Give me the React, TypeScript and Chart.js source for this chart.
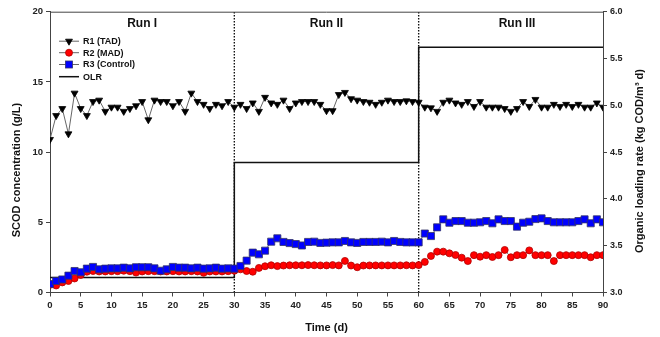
import React, { useEffect, useRef } from 'react';
import { Chart, registerables } from 'chart.js';

Chart.register(...registerables);

// ---- DATA ----
const days: number[] = Array.from({ length: 91 }, (_, i) => i);

const r1TAD: number[] = [
  10.9, 12.6, 13.1, 11.3, 14.2, 13.1, 12.6, 13.6, 13.7, 12.9,
  13.2, 13.2, 12.9, 13.1, 13.3, 13.6, 12.3, 13.7, 13.6, 13.6,
  13.3, 13.6, 12.9, 14.2, 13.6, 13.4, 13.1, 13.4, 13.3, 13.6,
  13.2, 13.4, 13.1, 13.5, 12.9, 13.9, 13.5, 13.4, 13.7, 13.1,
  13.5, 13.6, 13.6, 13.6, 13.4, 12.95, 12.95, 14.1, 14.25, 13.8,
  13.7, 13.6, 13.55, 13.4, 13.55, 13.7, 13.6, 13.6, 13.65, 13.6,
  13.55, 13.2, 13.15, 12.9, 13.55, 13.7, 13.5, 13.4, 13.6, 13.25,
  13.6, 13.2, 13.2, 13.2, 13.1, 12.9, 13.1, 13.6, 13.25, 13.75,
  13.2, 13.2, 13.4, 13.25, 13.4, 13.25, 13.4, 13.2, 13.2, 13.5,
  13.2,
];

const r2MAD: number[] = [
  0.55, 0.5, 0.72, 0.82, 1.0, 1.25, 1.48, 1.53, 1.5, 1.5,
  1.52, 1.52, 1.55, 1.52, 1.42, 1.5, 1.52, 1.52, 1.5, 1.5,
  1.52, 1.5, 1.5, 1.52, 1.5, 1.4, 1.5, 1.5, 1.5, 1.52,
  1.55, 1.65, 1.53, 1.48, 1.75, 1.87, 1.94, 1.88, 1.92, 1.94,
  1.94, 1.94, 1.95, 1.94, 1.93, 1.93, 1.95, 1.93, 2.25, 1.92,
  1.8, 1.92, 1.93, 1.93, 1.93, 1.93, 1.93, 1.93, 1.94, 1.93,
  1.95, 2.18, 2.6, 2.91, 2.91, 2.79, 2.67, 2.48, 2.24, 2.66,
  2.55, 2.66, 2.53, 2.66, 3.03, 2.51, 2.66, 2.66, 3.0, 2.66,
  2.66, 2.66, 2.24, 2.66, 2.66, 2.66, 2.66, 2.66, 2.51, 2.66,
  2.66,
];

const r3Control: number[] = [
  0.6, 0.82, 0.93, 1.2, 1.53, 1.44, 1.7, 1.82, 1.65, 1.7,
  1.72, 1.72, 1.77, 1.72, 1.8, 1.8, 1.8, 1.72, 1.55, 1.65,
  1.82, 1.77, 1.77, 1.72, 1.77, 1.7, 1.72, 1.77, 1.7, 1.72,
  1.7, 1.89, 2.27, 2.84, 2.72, 2.98, 3.62, 3.86, 3.6, 3.52,
  3.45, 3.35, 3.6, 3.62, 3.53, 3.55, 3.57, 3.57, 3.67, 3.57,
  3.53, 3.6, 3.6, 3.6, 3.62, 3.57, 3.67, 3.6, 3.57, 3.57,
  3.57, 4.2, 4.02, 4.64, 5.21, 4.97, 5.09, 5.09, 4.97, 4.97,
  5.0, 5.09, 4.93, 5.21, 5.09, 5.09, 4.69, 4.97, 5.04, 5.23,
  5.28, 5.09, 5.0, 5.0, 5.0, 5.0, 5.09, 5.21, 4.93, 5.21,
  5.0,
];

const olrDays: number[] = [0, 30, 60, 90];
const olrValues: number[] = [3.16, 4.39, 5.62, 5.62];

const runBoundaries: number[] = [30, 60];
const runLabels: string[] = ['Run I', 'Run II', 'Run III'];
const runLabelDays: number[] = [15, 45, 76];

const seriesLabels: string[] = ['R1 (TAD)', 'R2 (MAD)', 'R3 (Control)', 'OLR'];

const leftTitle = 'SCOD concentration (g/L)';
const rightTitle = 'Organic loading rate (kg COD/m³ d)';
const bottomTitle = 'Time (d)';

const FONT = "'Liberation Sans', Arial, Helvetica, sans-serif";

const toXY = (ys: number[]) => ys.map((y, i) => ({ x: days[i], y }));

function drawMarker(ctx: CanvasRenderingContext2D, kind: string, x: number, y: number) {
  ctx.save();
  ctx.lineWidth = 0.8;
  if (kind === 'tri') {
    const r = 4;
    ctx.fillStyle = '#000';
    ctx.strokeStyle = '#000';
    ctx.beginPath();
    ctx.moveTo(x, y + r);
    ctx.lineTo(x - r * 0.866, y - r * 0.5);
    ctx.lineTo(x + r * 0.866, y - r * 0.5);
    ctx.closePath();
    ctx.fill();
    ctx.stroke();
  } else if (kind === 'circle') {
    ctx.fillStyle = '#ff0000';
    ctx.strokeStyle = '#b00000';
    ctx.beginPath();
    ctx.arc(x, y, 3.5, 0, Math.PI * 2);
    ctx.fill();
    ctx.stroke();
  } else if (kind === 'square') {
    ctx.fillStyle = '#0000ff';
    ctx.strokeStyle = '#333366';
    ctx.fillRect(x - 3.5, y - 3.5, 7, 7);
    ctx.strokeRect(x - 3.5, y - 3.5, 7, 7);
  }
  ctx.restore();
}

const decorPlugin = {
  id: 'decor',
  afterDraw(chart: any) {
    const { ctx, chartArea, scales } = chart;
    const { left, right, top } = chartArea;
    ctx.save();
    // top border
    ctx.strokeStyle = '#444';
    ctx.lineWidth = 1;
    ctx.beginPath();
    ctx.moveTo(left, top + 0.5);
    ctx.lineTo(right, top + 0.5);
    ctx.stroke();

    // run labels
    ctx.fillStyle = '#111';
    ctx.font = `bold 12px ${FONT}`;
    ctx.textAlign = 'center';
    ctx.textBaseline = 'middle';
    runLabels.forEach((lab, i) => {
      ctx.fillText(lab, scales.x.getPixelForValue(runLabelDays[i]), top + 12);
    });

    // legend
    const kinds = ['tri', 'circle', 'square', 'line'];
    const lx0 = left + 9;
    const lx1 = left + 29;
    const mx = left + 19;
    const rowY = [top + 29.5, top + 41, top + 52.8, top + 65];
    ctx.font = `bold 9px ${FONT}`;
    ctx.textAlign = 'left';
    kinds.forEach((k, i) => {
      const y = rowY[i];
      ctx.beginPath();
      ctx.strokeStyle = k === 'line' ? '#111' : '#666';
      ctx.lineWidth = k === 'line' ? 1.5 : 1;
      ctx.moveTo(lx0, y);
      ctx.lineTo(lx1, y);
      ctx.stroke();
      if (k !== 'line') drawMarker(ctx, k, mx, y);
      ctx.fillStyle = '#111';
      ctx.fillText(seriesLabels[i], left + 33, y + 0.5);
    });

    // axis titles
    ctx.font = `bold 11px ${FONT}`;
    ctx.fillStyle = '#111';
    ctx.textAlign = 'center';
    ctx.textBaseline = 'middle';
    ctx.fillText(bottomTitle, (left + right) / 2, 328);

    ctx.save();
    ctx.translate(17, 170);
    ctx.rotate(-Math.PI / 2);
    ctx.fillText(leftTitle, 0, 0);
    ctx.restore();

    ctx.save();
    ctx.translate(640, 161);
    ctx.rotate(-Math.PI / 2);
    ctx.fillText(rightTitle, 0, 0);
    ctx.restore();

    ctx.restore();
  },
};

export default function App() {
  const ref = useRef<HTMLCanvasElement | null>(null);

  useEffect(() => {
    if (!ref.current) return;
    const tickFont = { family: FONT, size: 9.5, weight: 'bold' as const };
    const gridCfg = {
      display: true,
      drawOnChartArea: false,
      drawTicks: true,
      tickLength: 4,
      color: '#444',
    };
    const borderCfg = { display: true, color: '#444', width: 1 };

    const boundaryDatasets = runBoundaries.map((d) => ({
      label: 'boundary',
      data: [
        { x: d, y: 0 },
        { x: d, y: 20 },
      ],
      yAxisID: 'y',
      borderColor: '#111',
      borderWidth: 1.4,
      borderDash: [1.5, 1.5],
      pointRadius: 0,
      order: 6,
    }));

    const chart = new Chart(ref.current, {
      type: 'line',
      data: {
        datasets: [
          {
            label: seriesLabels[0],
            data: toXY(r1TAD),
            yAxisID: 'y',
            borderColor: '#666',
            borderWidth: 1,
            pointStyle: 'triangle',
            pointRotation: 180,
            pointRadius: 4,
            pointBackgroundColor: '#000',
            pointBorderColor: '#000',
            pointBorderWidth: 0.8,
            order: 1,
          },
          {
            label: seriesLabels[1],
            data: toXY(r2MAD),
            yAxisID: 'y',
            borderColor: '#777',
            borderWidth: 1,
            pointStyle: 'circle',
            pointRadius: 3.5,
            pointBackgroundColor: '#ff0000',
            pointBorderColor: '#b00000',
            pointBorderWidth: 0.8,
            order: 3,
          },
          {
            label: seriesLabels[2],
            data: toXY(r3Control),
            yAxisID: 'y',
            borderColor: '#777',
            borderWidth: 1,
            pointStyle: 'rect',
            pointRadius: 5,
            pointBackgroundColor: '#0000ff',
            pointBorderColor: '#333366',
            pointBorderWidth: 0.8,
            order: 2,
          },
          {
            label: seriesLabels[3],
            data: olrDays.map((d, i) => ({ x: d, y: olrValues[i] })),
            yAxisID: 'y2',
            borderColor: '#111',
            borderWidth: 1.5,
            stepped: 'before',
            pointRadius: 0,
            order: 5,
          },
          ...boundaryDatasets,
        ] as any,
      },
      options: {
        responsive: false,
        animation: false,
        devicePixelRatio: 1,
        layout: { padding: { top: 11.7, left: 0, right: 0, bottom: 0 } },
        plugins: {
          legend: { display: false },
          tooltip: { enabled: false },
        },
        scales: {
          x: {
            type: 'linear',
            min: 0,
            max: 90,
            ticks: {
              stepSize: 5,
              autoSkip: false,
              maxRotation: 0,
              font: tickFont,
              color: '#222',
              padding: 3,
            },
            grid: gridCfg,
            border: borderCfg,
            afterFit: (s: any) => {
              s.height = 44.5;
            },
          },
          y: {
            position: 'left',
            min: 0,
            max: 20,
            ticks: { stepSize: 5, font: tickFont, color: '#222', padding: 3 },
            grid: gridCfg,
            border: borderCfg,
            afterFit: (s: any) => {
              s.width = 50;
            },
          },
          y2: {
            position: 'right',
            min: 3,
            max: 6,
            ticks: {
              stepSize: 0.5,
              font: { family: FONT, size: 9, weight: 'bold' as const },
              color: '#222',
              padding: 3,
              callback: (v: any) => Number(v).toFixed(1),
            },
            grid: gridCfg,
            border: borderCfg,
            afterFit: (s: any) => {
              s.width = 57;
            },
          },
        },
      } as any,
      plugins: [decorPlugin],
    });
    return () => chart.destroy();
  }, []);

  return (
    <div style={{ position: 'absolute', left: 0, top: 0, width: 660, height: 337, background: '#fff' }}>
      <canvas ref={ref} width={660} height={337} style={{ display: 'block' }} />
    </div>
  );
}
